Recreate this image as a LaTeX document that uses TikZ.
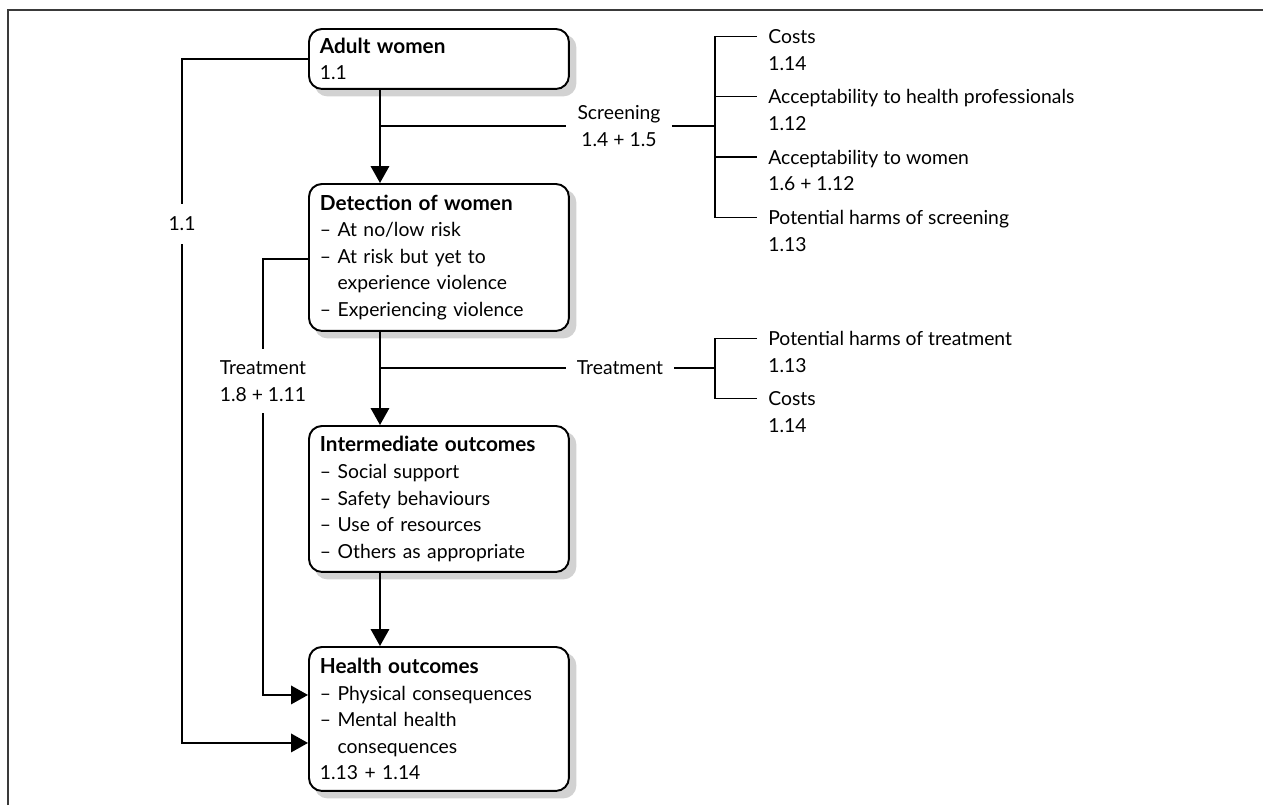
\documentclass[tikz,border=0pt]{standalone}
\usepackage{fontspec}
\setmainfont{Lato}
\usetikzlibrary{positioning,arrows.meta,backgrounds}
\definecolor{shadowgrey}{HTML}{d2d2d2}
\definecolor{framegrey}{HTML}{3a3a3a}

\tikzset{
  stagebox/.style={draw, line width=1.1pt, rounded corners=7.4pt, fill=white,
    minimum width=5.2cm, text width=4.76cm, inner xsep=0.22cm, inner ysep=0pt,
    align=left, anchor=north west},
  flow/.style={line width=1.1pt, -{Triangle[length=0.34cm,width=0.37cm]}},
  link/.style={line width=1.1pt},
  branch/.style={line width=0.7pt},
  tag/.style={align=center, inner xsep=0.22cm, inner ysep=0pt},
  item/.style={align=left, anchor=west, inner sep=0pt},
}
\newcommand{\ind}{\phantom{-- }}
\newcommand{\head}[1]{{\fontsize{11.8}{15.1}\selectfont\bfseries #1}}

\begin{document}
\begin{tikzpicture}[x=0.02cm, y=-0.02cm, font=\fontsize{11}{15.1}\selectfont]
    \useasboundingbox (0,0) rectangle (1263,805);
    \draw[framegrey, line width=1.6pt] (8,805) -- (8,10) -- (1263,10);

    % stages
    \node[stagebox, minimum height=1.2cm] (adult) at (308,28) {\head{Adult women}\\1.1};
    \node[stagebox, minimum height=2.94cm] (detect) at (308,183) {\head{Detection of women}\\-- At no/low risk\\-- At risk but yet to\\\ind experience violence\\-- Experiencing violence};
    \node[stagebox, minimum height=2.92cm] (inter) at (308,425) {\head{Intermediate outcomes}\\-- Social support\\-- Safety behaviours\\-- Use of resources\\-- Others as appropriate};
    \node[stagebox, minimum height=2.88cm] (health) at (308,646) {\head{Health outcomes}\\-- Physical consequences\\-- Mental health\\\ind consequences\\1.13 + 1.14};

    \begin{scope}[on background layer]
        \foreach \n in {adult,detect,inter,health}
            \fill[shadowgrey, rounded corners=7.4pt] ([shift={(0.13cm,-0.13cm)}]\n.south west) rectangle ([shift={(0.13cm,-0.13cm)}]\n.north east);
    \end{scope}

    \draw[flow] ([xshift=1.44cm]adult.south west) -- ([xshift=1.44cm]detect.north west);
    \draw[flow] ([xshift=1.44cm]detect.south west) -- ([xshift=1.44cm]inter.north west);
    \draw[flow] ([xshift=1.44cm]inter.south west) -- ([xshift=1.44cm]health.north west);

    % screening
    \coordinate (scrfork) at (380,126);
    \coordinate (scrbr) at (715,126);
    \node[tag] (scr) at (619,126) {Screening\\1.4 + 1.5};
    \draw[branch] (scrfork) -- (scr.west);
    \draw[branch] (scr.east) -- (scrbr);

    \node[item] (s1) at (768,50) {Costs\\1.14};
    \node[item] (s2) at (768,110) {Acceptability to health professionals\\1.12};
    \node[item] (s3) at (768,170.5) {Acceptability to women\\1.6 + 1.12};
    \node[item] (s4) at (768,231) {Potential harms of screening\\1.13};
    \foreach \n in {s1,s2,s3,s4}
        \coordinate (\n-b) at ([shift={(-0.22cm,0.27cm)}]\n.west);
    \draw[branch] (s1-b) -| (scrbr) |- (s4-b);
    \draw[branch] (s2-b -| scrbr) -- (s2-b);
    \draw[branch] (s3-b -| scrbr) -- (s3-b);

    % treatment
    \coordinate (trfork) at (380,368);
    \coordinate (trbr) at (715,368);
    \node[tag] (tr) at (620,368) {Treatment};
    \draw[branch] (trfork) -- (tr.west);
    \draw[branch] (tr.east) -- (trbr);

    \node[item] (t1) at (768,352) {Potential harms of treatment\\1.13};
    \node[item] (t2) at (768,412) {Costs\\1.14};
    \foreach \n in {t1,t2}
        \coordinate (\n-b) at ([shift={(-0.22cm,0.27cm)}]\n.west);
    \draw[branch] (t1-b) -| (trbr) |- (t2-b);

    % loops on the left
    \node[inner sep=0pt, minimum height=0.8cm] (loopA) at (182,224) {1.1};
    \draw[link] (adult.west) -| (loopA.north);
    \draw[flow] (loopA.south) |- ([yshift=-0.48cm]health.west);

    \node[align=center, inner sep=0pt, minimum height=1.28cm] (loopB) at (263,381) {Treatment\\1.8 + 1.11};
    \draw[link] ([yshift=-0.03cm]detect.west) -| (loopB.north);
    \draw[flow] (loopB.south) |- ([yshift=0.48cm]health.west);
\end{tikzpicture}
\end{document}
